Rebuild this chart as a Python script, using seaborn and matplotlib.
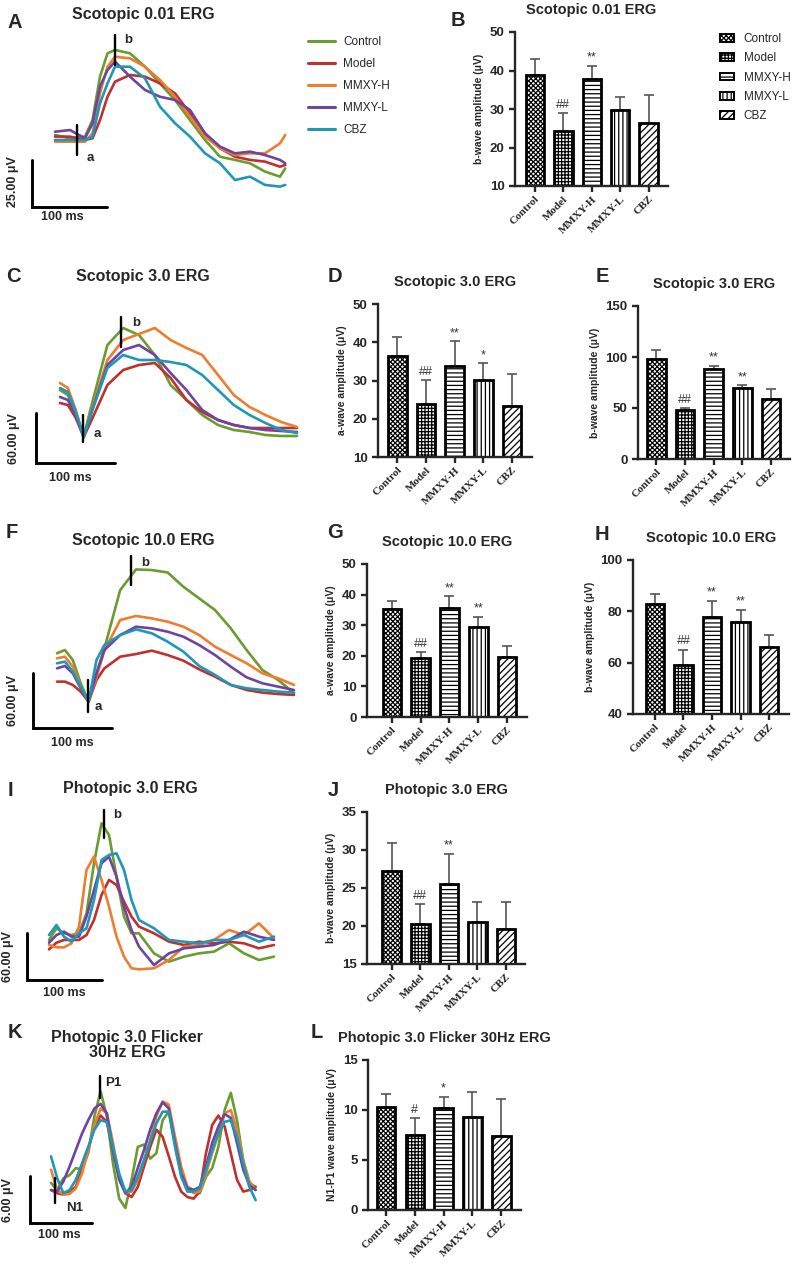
import numpy as np
import seaborn as sns
import matplotlib.pyplot as plt
from matplotlib.lines import Line2D
import matplotlib.patches as mpatches

W, H = 796, 1263

GROUPS = ['Control', 'Model', 'MMXY-H', 'MMXY-L', 'CBZ']
COLORS = ['#6a9c2f', '#c0302e', '#ee7d2f', '#6f44a0', '#1f97b6']
HATCHES = ['xxxxxxx', '+++++', '----', '||||', '/////']

# ERG traces: time (ms), amplitude (uV)
T_A = [0, 20, 40, 50, 60, 70, 80, 100, 120, 140, 160, 180, 200, 220, 240, 260, 280, 300, 307]
A_CONTROL = [2.7, 0.9, 1.8, 10.6, 33.7, 46.1, 47.9, 46.1, 39.0, 30.1, 21.3, 10.6, 0.0, -8.9, -10.6, -12.4, -16.8, -19.5, -15.1]
A_MODEL = [1.8, 1.8, 0.0, 0.9, 10.6, 23.0, 31.0, 34.6, 33.7, 30.1, 24.8, 14.2, 3.5, -4.4, -8.9, -10.6, -11.5, -14.2, -13.3]
A_MMXYH = [-0.9, -0.9, -0.9, 3.5, 24.8, 39.0, 44.3, 43.4, 39.0, 31.9, 23.0, 12.4, 1.8, -4.4, -8.0, -7.1, -7.1, -1.8, 2.7]
A_MMXYL = [4.4, 5.3, 0.9, 8.9, 28.4, 37.2, 41.7, 33.7, 26.6, 23.0, 21.3, 16.0, 3.5, -3.5, -7.1, -6.2, -8.0, -10.6, -12.4]
A_CBZ = [0.0, 0.0, 0.0, 1.8, 19.5, 30.1, 39.0, 39.0, 32.8, 17.7, 8.9, 1.8, -7.1, -12.4, -21.3, -19.5, -23.9, -24.8, -23.9]

T_C = [0, 10, 20, 30, 40, 60, 80, 100, 120, 140, 160, 180, 200, 220, 240, 260, 280, 300]
C_CONTROL = [0.0, -6.0, -30.0, -55.2, -18.0, 54.0, 74.4, 66.0, 42.0, 6.0, -12.0, -30.0, -42.0, -48.0, -50.4, -54.0, -55.2, -55.2]
C_MODEL = [-15.6, -18.0, -33.6, -56.4, -36.0, 6.0, 24.0, 30.0, 32.4, 14.4, -12.0, -26.4, -36.0, -42.0, -45.6, -45.6, -45.6, -45.6]
C_MMXYH = [8.4, 2.4, -24.0, -56.4, -24.0, 36.0, 60.0, 67.2, 74.4, 60.0, 50.4, 42.0, 18.0, -6.0, -20.4, -30.0, -38.4, -44.4]
C_MMXYL = [-8.4, -12.0, -30.0, -56.4, -26.4, 30.0, 48.0, 54.0, 42.0, 20.4, 0.0, -24.0, -36.0, -42.0, -45.6, -48.0, -49.2, -50.4]
C_CBZ = [2.4, -2.4, -26.4, -56.4, -26.4, 26.4, 42.0, 36.0, 36.0, 33.6, 30.0, 18.0, 0.0, -18.0, -30.0, -39.6, -48.0, -51.6]

T_F = [0, 10, 20, 30, 40, 50, 60, 80, 100, 120, 140, 160, 180, 200, 220, 240, 260, 280, 300]
F_CONTROL = [7.3, 10.9, 0.0, -25.4, -45.4, -14.5, 12.7, 76.3, 98.8, 98.1, 95.5, 79.9, 67.2, 54.5, 34.5, 10.9, -10.9, -21.8, -36.3]
F_MODEL = [-23.6, -23.6, -27.2, -34.5, -45.4, -21.8, -9.1, 3.6, 6.5, 10.2, 5.4, -0.7, -10.2, -18.2, -27.2, -32.7, -35.6, -37.1, -38.1]
F_MMXYH = [1.8, 3.6, -7.3, -29.1, -45.4, -18.5, 10.2, 43.6, 48.0, 45.4, 41.8, 36.3, 27.2, 14.5, 5.4, -3.6, -14.5, -20.0, -27.2]
F_MMXYL = [-9.1, -6.5, -14.5, -30.9, -45.4, -14.5, 10.9, 27.2, 36.3, 34.5, 30.9, 25.4, 16.3, 5.4, -7.3, -18.9, -25.4, -29.1, -32.7]
F_CBZ = [-3.6, -1.8, -12.7, -29.1, -45.4, 0.0, 16.3, 27.2, 33.4, 29.1, 20.0, 9.1, -6.5, -16.3, -27.2, -30.9, -32.7, -34.5, -35.6]

T_I = [0, 10, 20, 30, 40, 50, 60, 70, 80, 90, 100, 110, 120, 140, 160, 180, 200, 220, 240, 260, 280, 300]
I_CONTROL = [2.6, 17.5, 11.1, 8.9, 11.1, 36.6, 100.5, 151.5, 136.6, 83.4, 32.4, 11.1, 11.1, -14.5, -25.1, -18.7, -14.5, -12.3, -1.7, -14.5, -23.0, -18.7]
I_MODEL = [-9.4, -0.9, 2.6, 2.6, 2.6, 8.9, 28.1, 60.0, 79.2, 72.8, 51.5, 32.4, 19.6, 11.1, 0.4, -3.8, 0.4, -1.7, 0.4, -1.7, -8.1, -3.8]
I_MMXYH = [-3.8, -6.8, -6.8, -1.7, 19.6, 92.0, 109.0, 79.2, 45.1, 6.8, -18.7, -33.6, -34.9, -33.6, -23.0, -6.0, -3.8, 2.6, 15.3, 8.9, 23.8, 4.7]
I_MMXYL = [-0.9, 8.9, 13.2, 6.8, 6.8, 32.4, 66.4, 100.5, 109.0, 83.4, 45.1, 15.3, -6.0, -29.4, -14.5, -8.1, -6.0, -3.8, 2.6, 13.2, 6.8, 2.6]
I_CBZ = [8.9, 21.7, 6.8, 0.4, 11.1, 17.5, 53.6, 104.7, 111.1, 113.2, 92.0, 53.6, 28.1, 17.5, 2.6, 0.4, -1.7, 2.6, 2.6, 8.9, 0.4, 6.8]

T_K = [0, 10, 20, 30, 40, 50, 60, 70, 80, 90, 100, 110, 120, 130, 140, 150, 160, 170, 180, 190,
       200, 210, 220, 230, 240, 250, 260, 270, 280, 290, 300, 310, 320, 330]
K_CONTROL = [0.9, 0.0, 1.5, 1.9, 2.8, 2.6, 4.7, 9.4, 12.6, 9.4, 3.4, -1.1, -2.3, 1.3, 5.5, 5.8, 4.0, 4.7, 8.9, 10.0,
             6.0, 2.1, 0.4, 0.0, -0.4, 1.7, 2.8, 5.5, 10.2, 12.4, 8.9, 3.8, 0.9, 0.4]
K_MODEL = [0.0, -0.4, -0.6, -0.2, 0.4, 2.6, 5.1, 8.1, 9.5, 8.7, 5.1, 1.5, -0.4, -0.9, 0.4, 3.0, 5.5, 7.7, 6.8, 4.3,
           1.7, -0.2, -0.9, -1.1, -0.2, 4.7, 8.3, 9.5, 8.1, 4.7, 1.3, -0.2, 0.0, 0.4]
K_MMXYH = [2.6, 0.0, -0.6, -0.5, 0.2, 2.1, 5.1, 8.3, 10.4, 9.8, 6.0, 1.7, -0.4, -0.2, 1.3, 3.8, 6.4, 9.4, 11.3, 10.9,
           6.8, 3.0, 0.4, -0.4, -0.2, 2.1, 4.7, 7.2, 9.8, 10.2, 7.7, 3.8, 1.1, 0.0]
K_MMXYL = [0.0, -0.2, 1.1, 3.0, 5.1, 7.2, 8.9, 10.4, 11.0, 9.8, 5.1, 1.3, -0.4, 0.4, 2.8, 5.1, 7.7, 9.8, 11.2, 10.4,
           6.0, 2.1, 0.2, 0.0, 0.4, 3.0, 6.0, 8.1, 9.7, 9.2, 6.0, 2.6, 0.6, 0.0]
K_CBZ = [4.3, 1.5, -0.4, 0.0, 1.3, 3.4, 5.5, 7.7, 8.9, 8.7, 5.5, 2.1, -0.2, 0.0, 1.7, 3.8, 6.2, 8.5, 10.0, 10.0,
         5.5, 1.7, -0.2, -0.2, 0.2, 2.6, 5.1, 7.2, 8.7, 8.9, 6.8, 3.4, 0.4, -1.3]

# bar charts: mean and top of SD error bar
B_MEAN = [38.9, 24.3, 37.8, 29.8, 26.3]
B_UPPER = [43.0, 29.0, 41.2, 33.2, 33.7]
B_SIG = ['', '##', '**', '', '']
D_MEAN = [36.5, 23.9, 33.7, 30.1, 23.4]
D_UPPER = [41.4, 30.2, 40.2, 34.5, 31.7]
D_SIG = ['', '##', '**', '*', '']
E_MEAN = [97.7, 47.7, 88.6, 69.9, 58.5]
E_UPPER = [106.9, 50.3, 91.2, 72.5, 69.0]
E_SIG = ['', '##', '**', '**', '']
G_MEAN = [35.4, 19.3, 35.5, 29.4, 19.7]
G_UPPER = [37.8, 21.3, 39.5, 32.8, 23.3]
G_SIG = ['', '##', '**', '**', '']
H_MEAN = [82.9, 59.2, 77.9, 75.7, 66.1]
H_UPPER = [86.8, 65.1, 84.1, 80.7, 70.7]
H_SIG = ['', '##', '**', '**', '']
J_MEAN = [27.2, 20.2, 25.5, 20.5, 19.6]
J_UPPER = [30.9, 22.9, 29.5, 23.1, 23.2]
J_SIG = ['', '##', '**', '', '']
L_MEAN = [10.3, 7.5, 10.2, 9.3, 7.4]
L_UPPER = [11.6, 9.2, 11.3, 11.8, 11.1]
L_SIG = ['', '#', '*', '', '']

sns.set_style('ticks')
plt.rcParams['font.family'] = ['Liberation Sans', 'DejaVu Sans']
plt.rcParams['hatch.linewidth'] = 0.9
plt.rcParams['axes.linewidth'] = 1.7

fig = plt.figure(figsize=(W / 100, H / 100), dpi=100)


def px_axes(left, top, right, bottom):
    return fig.add_axes([left / W, 1 - bottom / H, (right - left) / W, (bottom - top) / H])


def ftext(x, y, s, size=9, weight='bold', **kw):
    fig.text(x / W, 1 - y / H, s, fontsize=size, fontweight=weight, ha=kw.pop('ha', 'center'),
             va=kw.pop('va', 'center'), **kw)


def trace_panel(box, x0, ms_px, y0, uv_px, t, traces, scale_uv, corner, markers):
    left, top, right, bottom = box
    ax = px_axes(*box)
    for color, vals in zip(COLORS, traces):
        sns.lineplot(x=t, y=vals, color=color, lw=1.9, ax=ax)
    cx, cy = corner
    ax.plot([cx, cx, cx + 100], [cy + scale_uv, cy, cy], color='black', lw=2.1, solid_joinstyle='miter')
    for tm, lo, hi in markers:
        ax.plot([tm, tm], [lo, hi], color='black', lw=1.7)
    ax.set_xlim((left - x0) * ms_px, (right - x0) * ms_px)
    ax.set_ylim((y0 - bottom) * uv_px, (y0 - top) * uv_px)
    ax.axis('off')
    return ax


def bar_panel(box, xlim, ylim, yticks, means, upper, sig, ylabel, title):
    ax = px_axes(*box)
    sns.barplot(x=GROUPS, y=means, color='white', edgecolor='black', linewidth=2.0,
                width=0.65, ax=ax, zorder=2)
    for patch, h in zip(ax.patches, HATCHES):
        patch.set_hatch(h)
    pos = np.arange(len(GROUPS))
    m = np.array(means)
    ax.errorbar(pos, m, yerr=[np.zeros(len(m)), np.array(upper) - m], fmt='none',
                ecolor='#555555', elinewidth=1.2, capsize=3.5, capthick=1.2, zorder=1)
    for i, s in enumerate(sig):
        if s:
            ax.annotate(s, (i, upper[i]), xytext=(0, 1.5), textcoords='offset points',
                        ha='center', va='bottom', fontsize=9, color='#333333')
    ax.set_xlim(*xlim)
    ax.set_ylim(*ylim)
    ax.set_yticks(yticks)
    ax.set_xticks(pos)
    ax.set_xticklabels(GROUPS, rotation=45, ha='right', rotation_mode='anchor',
                       fontfamily='Liberation Serif', fontweight='bold', fontsize=8)
    for lab in ax.get_yticklabels():
        lab.set_fontweight('bold')
    ax.tick_params(axis='both', width=1.7, length=4, labelsize=9.5)
    ax.tick_params(axis='x', labelsize=8, pad=2)
    ax.set_xlabel('')
    ax.set_ylabel(ylabel, fontsize=7.5, fontweight='bold')
    ax.set_title(title, pad=13, fontsize=10.5, fontweight='bold')
    sns.despine(ax=ax)
    return ax


# trace panels
trace_panel((15, 25, 300, 215), 55, 100 / 75, 140, 25 / 47, T_A,
            [A_CONTROL, A_MODEL, A_MMXYH, A_MMXYL, A_CBZ], 25, (-31, -35.6),
            [(29, -8, 8), (80, 39.9, 55.9)])
trace_panel((15, 300, 300, 470), 60, 100 / 79, 390, 60 / 50, T_C,
            [C_CONTROL, C_MODEL, C_MMXYH, C_MMXYL, C_CBZ], 60, (-30, -87.6),
            [(29, -62, -30), (77, 51.6, 87.6)])
trace_panel((15, 545, 300, 735), 57, 100 / 79, 660, 60 / 55, T_F,
            [F_CONTROL, F_MODEL, F_MMXYH, F_MMXYL, F_CBZ], 60, (-30, -74.2),
            [(39, -56.3, -21.8), (94, 81.7, 114)])
trace_panel((15, 800, 300, 985), 49, 100 / 75, 942, 60 / 47, T_I,
            [I_CONTROL, I_MODEL, I_MMXYH, I_MMXYL, I_CBZ], 60, (-29, -48.5),
            [(73, 132.4, 168.6)])
trace_panel((15, 1070, 300, 1228), 51, 100 / 62, 1190, 6 / 47, T_K,
            [K_CONTROL, K_MODEL, K_MMXYH, K_MMXYL, K_CBZ], 6, (-34, -4.21),
            [(79, 11.7, 14.5), (6.5, -1.7, 1.5)])

# trace titles, scale labels, wave markers
ftext(143, 15, 'Scotopic 0.01 ERG', size=11.5)
ftext(143, 276, 'Scotopic 3.0 ERG', size=11.5)
ftext(143, 540, 'Scotopic 10.0 ERG', size=11.5)
ftext(130, 789, 'Photopic 3.0 ERG', size=11.5)
ftext(127, 1045, 'Photopic 3.0 Flicker\n30Hz ERG', size=11.5, linespacing=1.05)

for x, y, s in [(13, 182, '25.00 μV'), (14, 438, '60.00 μV'), (13, 700, '60.00 μV'),
                (8, 957, '60.00 μV'), (8, 1200, '6.00 μV')]:
    ftext(x, y, s, size=9, rotation=90)
for x, y in [(62, 217), (70, 478), (72, 743), (64, 993), (59, 1235)]:
    ftext(x, y, '100 ms', size=9)
for x, y, s in [(90, 158, 'a'), (128, 40, 'b'), (136, 323, 'b'), (97, 434, 'a'),
                (145, 563, 'b'), (98, 707, 'a'), (117, 815, 'b'), (113, 1083, 'P1'), (75, 1208, 'N1')]:
    ftext(x, y, s, size=9.5)

# bar panels
bar_panel((515, 32, 668, 186), (-0.70, 4.68), (10, 50), [10, 20, 30, 40, 50],
          B_MEAN, B_UPPER, B_SIG, 'b-wave amplitude (μV)', 'Scotopic 0.01 ERG')
bar_panel((378, 304, 532, 457), (-0.68, 4.70), (10, 50), [10, 20, 30, 40, 50],
          D_MEAN, D_UPPER, D_SIG, 'a-wave amplitude (μV)', 'Scotopic 3.0 ERG')
bar_panel((638, 306, 790, 459), (-0.64, 4.66), (0, 150), [0, 50, 100, 150],
          E_MEAN, E_UPPER, E_SIG, 'b-wave amplitude (μV)', 'Scotopic 3.0 ERG')
bar_panel((367, 564, 527, 717), (-0.87, 4.70), (0, 50), [0, 10, 20, 30, 40, 50],
          G_MEAN, G_UPPER, G_SIG, 'a-wave amplitude (μV)', 'Scotopic 10.0 ERG')
bar_panel((633, 560, 789, 714), (-0.77, 4.70), (40, 100), [40, 60, 80, 100],
          H_MEAN, H_UPPER, H_SIG, 'b-wave amplitude (μV)', 'Scotopic 10.0 ERG')
bar_panel((367, 812, 525, 964), (-0.86, 4.66), (15, 35), [15, 20, 25, 30, 35],
          J_MEAN, J_UPPER, J_SIG, 'b-wave amplitude (μV)', 'Photopic 3.0 ERG')
bar_panel((368, 1060, 521, 1210), (-0.63, 4.69), (0, 15), [0, 5, 10, 15],
          L_MEAN, L_UPPER, L_SIG, 'N1-P1 wave amplitude (μV)', 'Photopic 3.0 Flicker 30Hz ERG')

# panel letters
for x, y, s in [(15, 23, 'A'), (458, 20, 'B'), (13, 277, 'C'), (335, 277, 'D'), (602, 277, 'E'),
                (12, 533, 'F'), (335, 533, 'G'), (602, 535, 'H'), (10, 790, 'I'), (333, 790, 'J'),
                (15, 1032, 'K'), (317, 1033, 'L')]:
    ftext(x, y, s, size=14.5)

# legends
line_handles = [Line2D([0], [0], color=c, lw=2.2) for c in COLORS]
fig.legend(line_handles, GROUPS, loc='upper left', bbox_to_anchor=(308 / W, 1 - 36 / H),
           frameon=False, fontsize=8.5, handlelength=2.3, handletextpad=0.7, labelspacing=0.85,
           borderpad=0, borderaxespad=0)
patch_handles = [mpatches.Patch(facecolor='white', edgecolor='black', hatch=h, lw=1.4) for h in HATCHES]
fig.legend(patch_handles, GROUPS, loc='upper left', bbox_to_anchor=(720 / W, 1 - 33 / H),
           frameon=False, fontsize=8.5, handlelength=1.2, handleheight=0.65, handletextpad=0.8,
           labelspacing=0.62, borderpad=0, borderaxespad=0)

fig.savefig('out.png', dpi=100)
